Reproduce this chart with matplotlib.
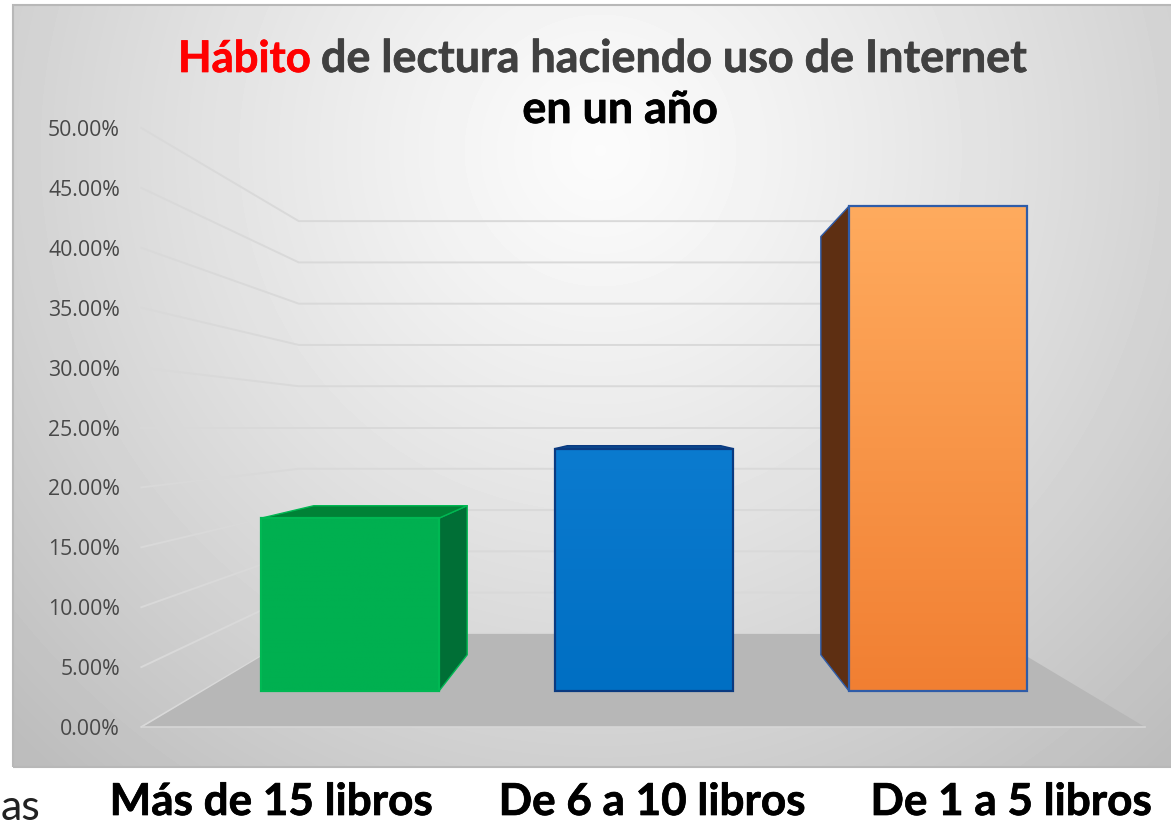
import numpy as np
import matplotlib
matplotlib.use('Agg')
import matplotlib.pyplot as plt
import matplotlib.patheffects as pe
from matplotlib.patches import Polygon, Rectangle

W, H = 1171, 825

# data
categories = ['Más de 15 libros', 'De 6 a 10 libros', 'De 1 a 5 libros']
values = [16.4, 23.0, 46.0]
ticks = [0, 5, 10, 15, 20, 25, 30, 35, 40, 45, 50]

# bar styles
face_top = ['#00b050', '#0b7bcf', '#ffab5e']
face_bottom = ['#00b050', '#006fc3', '#f17f32']
side_color = ['#006f36', '#004a90', '#5e2f12']
roof_color = ['#008236', '#0a4a90', '#5e2f12']
edge_color = ['#00b853', '#0a3a80', '#2f5ca8']

# pixel layout of the front plane
PX_LEFT, PX_UNIT = 143, 334
PY_ZERO, PY_UNIT = 727, 11.98
# perspective, scale of each plane towards the vanishing point
VP_X, VP_Y = 1.0, 25.0
BAR_FRONT, BAR_BACK, WALL = 0.88, 0.759, 0.689
BAR_WIDTH = 0.605


def to_x(px):
    return (px - PX_LEFT) / PX_UNIT - 0.5


def to_y(py):
    return (PY_ZERO - py) / PY_UNIT


def project(x, v, scale):
    return VP_X + (x - VP_X) * scale, VP_Y + (v - VP_Y) * scale


fig = plt.figure(figsize=(W / 100, H / 100), dpi=100)
ax = fig.add_axes([0, 0, 1, 1])
xlim = (to_x(0), to_x(W))
ylim = (to_y(H), to_y(0))

# grey background of the chart, lighter round the title
yy, xx = np.mgrid[5:767, 13:W]
dist = np.sqrt((xx - 600) ** 2 + (yy - 150) ** 2) / 700
shade = np.clip(0.985 - 0.2 * dist ** 1.2, 0.74, 1)
ax.imshow(shade, cmap='gray', vmin=0, vmax=1, aspect='auto', zorder=0,
          extent=(to_x(13), to_x(W), to_y(767), to_y(5)))
ax.add_patch(Rectangle((to_x(13), to_y(767)), to_x(W + 5) - to_x(13),
                       to_y(5) - to_y(767), fill=False, ec='#b8b8b8', lw=1.5,
                       zorder=1))

# floor
floor = [project(-0.5, 0, 1), project(2.5, 0, 1),
         project(2.5, 0, WALL), project(-0.5, 0, WALL)]
ax.add_patch(Polygon(floor, fc='#b7b7b7', ec='none', zorder=2))
ax.plot([floor[0][0], floor[1][0]], [0, 0], color='#d6d6d6', lw=1.2, zorder=2)

# grid lines on the side wall and on the back wall
for t in ticks:
    wx, wy = project(-0.5, t, WALL)
    ex, ey = project(2.5, t, WALL)
    ax.plot([-0.505, wx, ex], [t, wy, ey], color='#d9d9d9', lw=1.4, zorder=1.5)

# bars
for i, v in enumerate(values):
    left, right = i - BAR_WIDTH / 2, i + BAR_WIDTH / 2
    x0, y0 = project(left, 0, BAR_FRONT)
    x1, y1 = project(right, v, BAR_FRONT)
    bx0, by0 = project(left, 0, BAR_BACK)
    bx1, by1 = project(right, v, BAR_BACK)

    if x1 < VP_X:
        side = [(x1, y0), (x1, y1), (bx1, by1), (bx1, by0)]
        ax.add_patch(Polygon(side, fc=side_color[i], ec=edge_color[i], lw=1,
                             joinstyle='round', zorder=3))
    if x0 > VP_X:
        side = [(x0, y0), (x0, y1), (bx0, by1), (bx0, by0)]
        ax.add_patch(Polygon(side, fc=side_color[i], ec=edge_color[i], lw=1,
                             joinstyle='round', zorder=3))
    if v < VP_Y:
        roof = [(x0, y1), (x1, y1), (bx1, by1), (bx0, by1)]
        ax.add_patch(Polygon(roof, fc=roof_color[i], ec=edge_color[i], lw=1,
                             joinstyle='round', zorder=3))

    bar = ax.bar((x0 + x1) / 2, y1 - y0, x1 - x0, bottom=y0, fc='none',
                 ec=edge_color[i], lw=1.6, zorder=5)[0]
    colors = matplotlib.colors.LinearSegmentedColormap.from_list(
        'face', [face_top[i], face_bottom[i]])
    grad = ax.imshow(np.linspace(0, 1, 256).reshape(-1, 1), cmap=colors,
                     aspect='auto', zorder=4, extent=(x0, x1, y0, y1))
    grad.set_clip_path(Rectangle((x0, y0), x1 - x0, y1 - y0,
                                 transform=ax.transData))

ax.set_xlim(xlim)
ax.set_ylim(ylim)

# value axis, labels sit left of the wall
for s in ax.spines.values():
    s.set_visible(False)
ax.spines['left'].set_position(('data', to_x(120)))
ax.set_xticks([])
ax.set_yticks(ticks)
ax.set_yticklabels(['%.2f%%' % t for t in ticks], family='Open Sans',
                   fontsize=15.3, color='#484848')
ax.tick_params(axis='y', length=0, pad=0)

# title in three pieces, because of the colours
title_font = dict(family='Lato', weight='bold', va='baseline')


def heavier(color, width=0.5):
    return [pe.withStroke(linewidth=width, foreground=color)]


fig.text(178 / W, 1 - 72 / H, 'Hábito', color='#ff0000', fontsize=31.4,
         path_effects=heavier('#ff0000'), **title_font)
fig.text(321 / W, 1 - 72 / H, 'de lectura haciendo uso de Internet',
         color='#404040', fontsize=32.3, path_effects=heavier('#404040'),
         **title_font)
fig.text(620 / W, 1 - 123 / H, 'en un año', color='black', ha='center',
         fontsize=32.3, path_effects=heavier('black'), **title_font)

# category labels are not under the bars in the original
label_px = [271, 652, 1011]
for px, c in zip(label_px, categories):
    fig.text(px / W, 1 - 815 / H, c, family='Lato', weight='bold',
             fontsize=31.7, color='black', ha='center', va='baseline',
             path_effects=heavier('black'))

# piece of text left over from the slide
fig.text(1 / W, 1 - 820 / H, 'as', family='Lato', fontsize=31, color='#222222',
         va='baseline')

fig.savefig('out.png', dpi=100)
